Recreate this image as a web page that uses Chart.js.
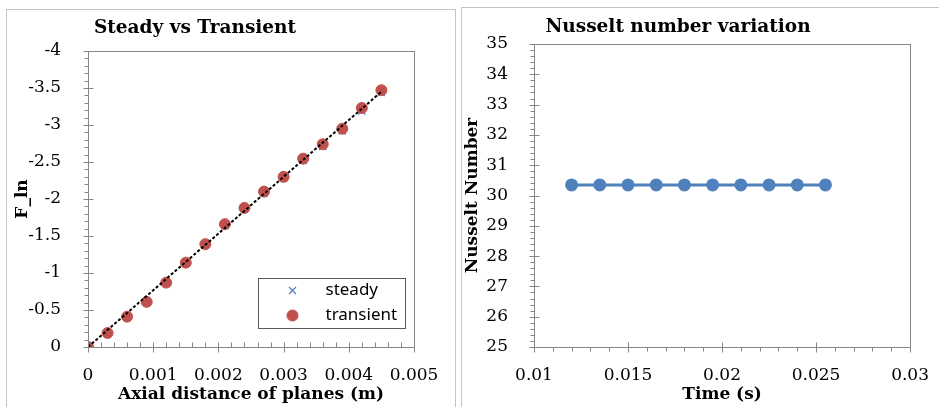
<!DOCTYPE html>
<html lang="en">
<head>
<meta charset="UTF-8">
<title>Steady vs Transient / Nusselt number</title>
<script src="https://cdn.jsdelivr.net/npm/chart.js@4.4.1/dist/chart.umd.min.js"></script>
<style>
body{margin:0;background:#fff;width:939px;height:407px;overflow:hidden;position:relative}
.panel{position:absolute;border:1px solid #c4c4c4;background:#fff;overflow:hidden}
#p1{left:6px;top:9px;width:448px;height:410px}
#p2{left:461px;top:7px;width:490px;height:410px}
canvas{position:absolute;left:0;top:0}
</style>
</head>
<body>
<div class="panel" id="p1"><canvas id="c1" width="448" height="397" style="width:448px;height:397px"></canvas></div>
<div class="panel" id="p2"><canvas id="c2" width="477" height="399" style="width:477px;height:399px"></canvas></div>
<script>
// axial plane positions (m) and F_ln values
var planeX = [0, 0.0003, 0.0006, 0.0009, 0.0012, 0.0015, 0.0018, 0.0021, 0.0024, 0.0027, 0.003, 0.0033, 0.0036, 0.0039, 0.0042, 0.0045];
var steadyF = [0, -0.18, -0.40, -0.60, -0.86, -1.13, -1.38, -1.64, -1.86, -2.08, -2.28, -2.52, -2.71, -2.92, -3.19, -3.44];
var transientF = [0, -0.19, -0.41, -0.61, -0.87, -1.14, -1.39, -1.66, -1.88, -2.10, -2.30, -2.545, -2.74, -2.95, -3.23, -3.47];
// linear trend through the transient points
var trendX = [0, 0.0045];
var trendF = [0, -3.45];

// Nusselt number over time
var timeS = [0.012, 0.0135, 0.015, 0.0165, 0.018, 0.0195, 0.021, 0.0225, 0.024, 0.0255];
var nusselt = [30.35, 30.35, 30.35, 30.35, 30.35, 30.35, 30.35, 30.35, 30.35, 30.35];

var xTicks1 = [0, 0.001, 0.002, 0.003, 0.004, 0.005];
var yTicks1 = [-4, -3.5, -3, -2.5, -2, -1.5, -1, -0.5, 0];
var xTicks2 = [0.01, 0.015, 0.02, 0.025, 0.03];
var yTicks2 = [25, 26, 27, 28, 29, 30, 31, 32, 33, 34, 35];

var BLUE = '#4f81bd';
var RED = '#c0504d';
var AXIS = '#868686';
var SERIF = "'DejaVu Serif', serif";

var f_pts = function(xs, ys){
    var out = [];
    for(var i=0; i<xs.length; i++) out.push({x: xs[i], y: ys[i]});
    return out;
};
var f_num = function(v){ return String(parseFloat(Number(v).toFixed(5))); };

// plot box, excel-like major/minor tick marks
var boxTicks = {
    id: 'boxTicks',
    afterDraw: function(chart, args, o){
        var ctx = chart.ctx, a = chart.chartArea;
        ctx.save();
        ctx.strokeStyle = AXIS;
        ctx.lineWidth = 1;
        ctx.strokeRect(Math.round(a.left)+0.5, Math.round(a.top)+0.5, Math.round(a.right-a.left), Math.round(a.bottom-a.top));
        ['x','y'].forEach(function(id){
            var s = chart.scales[id], c = o[id];
            var n = Math.round((s.max - s.min)/c.minor);
            for(var i=0; i<=n; i++){
                var v = s.min + i*c.minor;
                var r = (v - s.min)/c.major;
                var major = Math.abs(r - Math.round(r)) < 1e-6;
                var p = Math.round(s.getPixelForValue(v)) + 0.5;
                ctx.beginPath();
                if(id === 'x'){
                    var y0 = Math.round(a.bottom) + 0.5;
                    if(major){ ctx.moveTo(p, y0-5); ctx.lineTo(p, y0+5); }
                    else if(c.side === 'in'){ ctx.moveTo(p, y0-5); ctx.lineTo(p, y0); }
                    else { ctx.moveTo(p, y0); ctx.lineTo(p, y0+4); }
                } else {
                    var x0 = Math.round(a.left) + 0.5;
                    if(major){ ctx.moveTo(x0-5, p); ctx.lineTo(x0+5, p); }
                    else { ctx.moveTo(x0-4, p); ctx.lineTo(x0, p); }
                }
                ctx.stroke();
            }
        });
        ctx.restore();
    }
};

var chartTitle = {
    id: 'chartTitle',
    afterDraw: function(chart, args, o){
        var ctx = chart.ctx;
        ctx.save();
        ctx.font = 'bold 18.5px ' + SERIF;
        ctx.fillStyle = '#000';
        ctx.textAlign = 'center';
        ctx.textBaseline = 'alphabetic';
        ctx.fillText(o.text, o.x, o.y);
        ctx.restore();
    }
};

// boxed legend inside the plot, lower right
var boxLegend = {
    id: 'boxLegend',
    afterDraw: function(chart, args, o){
        if(!o.show) return;
        var ctx = chart.ctx, a = chart.chartArea;
        var w = 147, h = 50;
        var left = Math.round(a.right - 9 - w) + 0.5, top = Math.round(a.bottom - 19 - h) + 0.5;
        ctx.save();
        ctx.fillStyle = '#fff';
        ctx.fillRect(left, top, w, h);
        ctx.strokeStyle = '#595959';
        ctx.lineWidth = 1;
        ctx.strokeRect(left, top, w, h);
        ctx.font = "17px 'Noto Sans', sans-serif";
        ctx.textBaseline = 'middle';
        ctx.textAlign = 'left';
        var rows = chart.data.datasets.filter(function(d){ return d.legendRow !== undefined; });
        rows.sort(function(p, q){ return p.legendRow - q.legendRow; });
        rows.forEach(function(d, i){
            var cy = top + 12 + i*25;
            ctx.fillStyle = d.pointBackgroundColor;
            ctx.strokeStyle = d.pointBorderColor;
            ctx.lineWidth = d.pointBorderWidth || 1;
            Chart.helpers.drawPoint(ctx, {pointStyle: d.pointStyle, radius: d.pointRadius, borderWidth: ctx.lineWidth, rotation: 0}, left + 34, cy);
            ctx.fillStyle = '#000';
            ctx.fillText(d.label, left + 67, cy);
        });
        ctx.restore();
    }
};

var f_scaleFont = {family: SERIF, size: 17};
var f_titleFont = {family: SERIF, size: 17, weight: 'bold'};

new Chart(document.getElementById('c1'), {
    type: 'scatter',
    data: {
        datasets: [{
            label: 'trend',
            type: 'line',
            data: f_pts(trendX, trendF),
            borderColor: '#000',
            borderWidth: 2,
            borderDash: [3, 2],
            pointRadius: 0,
            order: 0
        }, {
            label: 'transient',
            legendRow: 1,
            data: f_pts(planeX, transientF),
            pointStyle: 'circle',
            pointRadius: 5.5,
            pointBackgroundColor: RED,
            pointBorderColor: RED,
            pointBorderWidth: 1,
            order: 1
        }, {
            label: 'steady',
            legendRow: 0,
            data: f_pts(planeX, steadyF),
            pointStyle: 'crossRot',
            pointRadius: 5,
            pointBackgroundColor: BLUE,
            pointBorderColor: BLUE,
            pointBorderWidth: 1.2,
            order: 2
        }]
    },
    options: {
        responsive: false,
        animation: false,
        layout: {padding: {left: 0, top: 41, right: 41, bottom: 0}},
        plugins: {
            legend: {display: false},
            tooltip: {enabled: false},
            chartTitle: {text: 'Steady vs Transient', x: 188, y: 23},
            boxLegend: {show: true},
            boxTicks: {x: {major: 0.001, minor: 0.0002, side: 'in'}, y: {major: 0.5, minor: 0.1}}
        },
        scales: {
            x: {
                type: 'linear', min: 0, max: 0.005,
                afterBuildTicks: function(s){ s.ticks = xTicks1.map(function(v){ return {value: v}; }); },
                afterFit: function(s){ s.height = 60; },
                grid: {display: false},
                border: {display: false},
                ticks: {font: f_scaleFont, color: '#000', padding: 10, maxRotation: 0, callback: f_num},
                title: {display: true, text: 'Axial distance of planes (m)', font: f_titleFont, color: '#000', padding: {top: 0, bottom: 2}}
            },
            y: {
                type: 'linear', min: -4, max: 0, reverse: true,
                afterBuildTicks: function(s){ s.ticks = yTicks1.map(function(v){ return {value: v}; }); },
                afterFit: function(s){ s.width = 81; },
                grid: {display: false},
                border: {display: false},
                ticks: {font: f_scaleFont, color: '#000', padding: 19, callback: f_num},
                title: {display: true, text: 'F_ln', font: f_titleFont, color: '#000', padding: {top: 5, bottom: 0}}
            }
        }
    },
    plugins: [boxTicks, chartTitle, boxLegend]
});

new Chart(document.getElementById('c2'), {
    type: 'scatter',
    data: {
        datasets: [{
            label: 'Nusselt Number',
            data: f_pts(timeS, nusselt),
            showLine: true,
            borderColor: BLUE,
            borderWidth: 3,
            pointStyle: 'circle',
            pointRadius: 5,
            pointBackgroundColor: BLUE,
            pointBorderColor: BLUE
        }]
    },
    options: {
        responsive: false,
        animation: false,
        layout: {padding: {left: 0, top: 36, right: 23, bottom: 0}},
        plugins: {
            legend: {display: false},
            tooltip: {enabled: false},
            chartTitle: {text: 'Nusselt number variation', x: 216, y: 24},
            boxLegend: {show: false},
            boxTicks: {x: {major: 0.005, minor: 0.001, side: 'out'}, y: {major: 1, minor: 0.2}}
        },
        scales: {
            x: {
                type: 'linear', min: 0.01, max: 0.03,
                afterBuildTicks: function(s){ s.ticks = xTicks2.map(function(v){ return {value: v}; }); },
                afterFit: function(s){ s.height = 60; },
                grid: {display: false},
                border: {display: false},
                ticks: {font: f_scaleFont, color: '#000', padding: 10, maxRotation: 0, callback: f_num},
                title: {display: true, text: 'Time (s)', font: f_titleFont, color: '#000', padding: {top: 0, bottom: 2}}
            },
            y: {
                type: 'linear', min: 25, max: 35,
                afterBuildTicks: function(s){ s.ticks = yTicks2.map(function(v){ return {value: v}; }); },
                afterFit: function(s){ s.width = 72; },
                grid: {display: false},
                border: {display: false},
                ticks: {font: f_scaleFont, color: '#000', padding: 18, callback: f_num},
                title: {display: true, text: 'Nusselt Number', font: f_titleFont, color: '#000', padding: {top: 0, bottom: 0}}
            }
        }
    },
    plugins: [boxTicks, chartTitle, boxLegend]
});
</script>
</body>
</html>
